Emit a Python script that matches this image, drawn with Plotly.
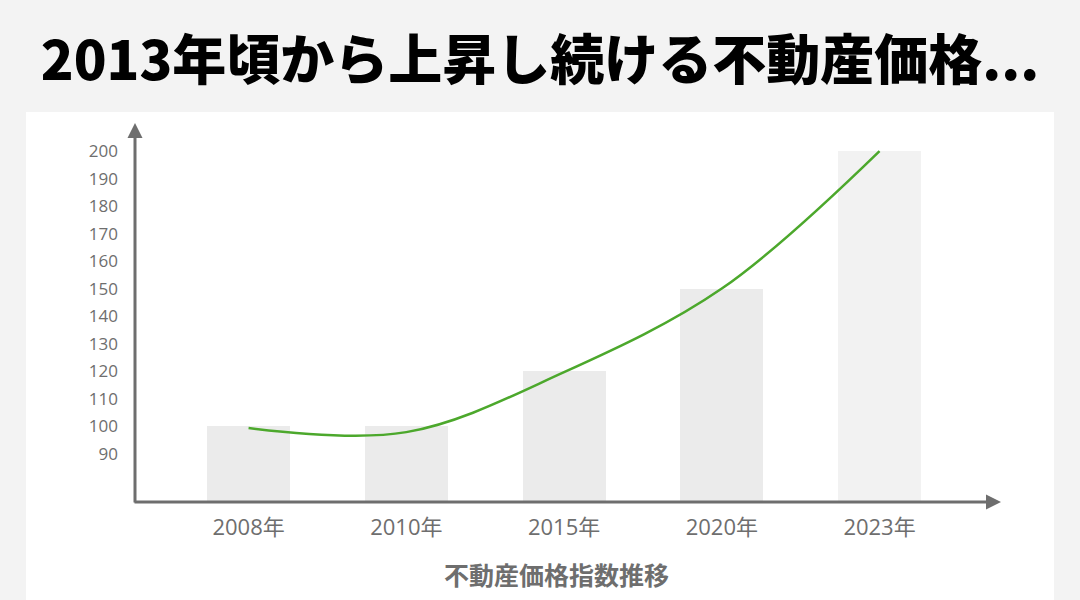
import plotly.graph_objects as go

# Palette.
INK = "#000000"
MUTED = "#6e6e6e"
PAGE = "#f3f3f3"
PANEL = "#ffffff"
BAR = "#ebebeb"
BAR_LAST = "#f2f2f2"
GREEN = "#4ca82c"

CJK = "Noto Sans CJK JP"
LATIN = "Open Sans, Noto Sans CJK JP"

TITLE = "2013年頃から上昇し続ける不動産価格..."
X_TITLE = "不動産価格指数推移"

years = ["2008年", "2010年", "2015年", "2020年", "2023年"]
bar_values = [100, 100, 120, 150, 200]
line_values = [99.3, 97.8, 119.6, 150, 200]
y_ticks = [90, 100, 110, 120, 130, 140, 150, 160, 170, 180, 190, 200]

# Plot area in pixels (inside a 1080x600 page): the axes run along its
# left and bottom edges, arrows point at its top-left and bottom-right corners.
W, H = 1080, 600
L, R, T, B = 135, 1001, 123, 502


def px(x):
    return (x - L) / (R - L)


def py(y):
    return (B - y) / (B - T)


fig = go.Figure()
fig.add_trace(
    go.Bar(
        x=years,
        y=bar_values,
        width=0.526,
        marker={"color": [BAR] * 4 + [BAR_LAST], "line": {"width": 0}},
        hoverinfo="skip",
    )
)
fig.add_trace(
    go.Scatter(
        x=years,
        y=line_values,
        mode="lines",
        line={"color": GREEN, "width": 2.5, "shape": "spline", "smoothing": 1.0},
        hoverinfo="skip",
    )
)

axis_arrow = dict(
    text="",
    showarrow=True,
    arrowhead=2,
    arrowsize=1,
    arrowwidth=3,
    arrowcolor=MUTED,
    xref="paper",
    yref="paper",
    axref="pixel",
    ayref="pixel",
    standoff=0,
)

fig.update_layout(
    width=W,
    height=H,
    margin={"l": L, "r": W - R, "t": T, "b": H - B},
    paper_bgcolor=PAGE,
    plot_bgcolor=PANEL,
    showlegend=False,
    bargap=0,
    title={
        "text": TITLE,
        "x": 0.5,
        "xanchor": "center",
        "y": 1 - 61 / H,
        "yanchor": "middle",
        "font": {"family": CJK, "size": 54, "color": INK, "weight": 900},
    },
    xaxis={
        "type": "category",
        "range": [-0.72, 4.77],
        "showgrid": False,
        "zeroline": False,
        "showline": False,
        "ticks": "",
        "ticklabelstandoff": 10,
        "tickfont": {"family": LATIN, "size": 22, "color": MUTED},
        "fixedrange": True,
    },
    yaxis={
        "range": [72.4, 210.2],
        "tickvals": y_ticks,
        "ticktext": [str(v) for v in y_ticks],
        "showgrid": False,
        "zeroline": False,
        "showline": False,
        "ticks": "",
        "ticklabelstandoff": 16,
        "tickfont": {"family": LATIN, "size": 17, "color": MUTED},
        "fixedrange": True,
    },
    shapes=[
        # white panel behind the chart
        {
            "type": "rect",
            "xref": "paper",
            "yref": "paper",
            "x0": px(26),
            "x1": px(1054),
            "y0": py(H + 5),
            "y1": py(112),
            "fillcolor": PANEL,
            "line": {"width": 0},
            "layer": "below",
        }
    ],
    annotations=[
        {**axis_arrow, "x": 1, "y": 0, "ax": -(R - L) - 2, "ay": 0},
        {**axis_arrow, "x": 0, "y": 1, "ax": 0, "ay": (B - T) + 2},
        {
            "text": X_TITLE,
            "showarrow": False,
            "xref": "paper",
            "yref": "paper",
            "x": px(556),
            "y": py(574),
            "xanchor": "center",
            "yanchor": "middle",
            "font": {"family": CJK, "size": 25, "color": MUTED, "weight": 700},
        },
    ],
)

# The figure is sized to the whole window, so drop the browser's body margin.
fig.write_html(
    "out.html",
    config={"displayModeBar": False},
    post_script="document.body.style.margin = '0';",
)
